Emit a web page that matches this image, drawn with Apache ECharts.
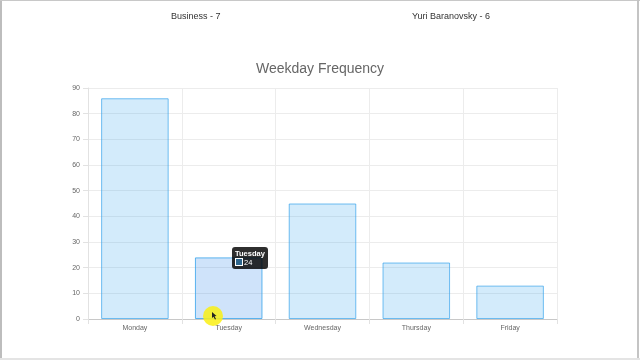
<!DOCTYPE html>
<html>
<head>
<meta charset="utf-8">
<script src="https://cdn.jsdelivr.net/npm/echarts@6/dist/echarts.min.js"></script>
<style>
  html, body { margin: 0; padding: 0; background: #fff; }
  #wrap { position: relative; width: 640px; height: 360px; overflow: hidden; }
  #chart { width: 640px; height: 360px; }
  #bl { position:absolute; left:0; top:0; width:2px; height:360px; background:#bdbdbd; }
  #bt { position:absolute; left:0; top:0; width:640px; height:1px; background:#c8c8c8; }
  #br { position:absolute; right:1px; top:0; width:2px; height:360px; background:#c4c4c4; }
  #bb { position:absolute; left:0; bottom:0; width:640px; height:2px; background:#e4e4e4; }
</style>
</head>
<body>
<div id="wrap">
<div id="chart"></div>
<div id="bl"></div><div id="bt"></div><div id="br"></div><div id="bb"></div>
</div>
<script>
const headerLabels = ["Business - 7", "Yuri Baranovsky - 6"];
const chartTitle = "Weekday Frequency";
const categories = ["Monday", "Tuesday", "Wednesday", "Thursday", "Friday"];
const values = [86, 24, 45, 22, 13];
const yTicks = { min: 0, max: 90, interval: 10 };
const hoveredIndex = 1;

const chart = echarts.init(document.getElementById('chart'));
const font = "'Liberation Sans', Arial, sans-serif";

chart.setOption({
  animation: false,
  textStyle: { fontFamily: font },
  title: {
    text: chartTitle,
    left: 'center',
    top: 57,
    textStyle: { fontSize: 14, fontWeight: 'normal', color: '#666', fontFamily: font }
  },
  graphic: [
    { type: 'text', left: 171, top: 12, style: { text: headerLabels[0], fill: '#333', font: "9px " + font } },
    { type: 'text', left: 412, top: 12, style: { text: headerLabels[1], fill: '#333', font: "9px " + font } },
    { type: 'circle', shape: { cx: 213, cy: 316, r: 10 }, style: { fill: 'rgba(250,240,20,0.85)' }, z: 100 },
    { type: 'polygon', shape: { points: [[212,312],[212,318],[213.5,316.8],[215,319.5],[216,319],[214.6,316.3],[216.5,316]] }, style: { fill: '#222' }, z: 101 }
  ],
  grid: { left: 88, right: 83, top: 88, bottom: 41, containLabel: false },
  tooltip: {
    trigger: 'item',
    triggerOn: 'none',
    alwaysShowContent: true,
    position: [232, 247],
    backgroundColor: 'rgba(0,0,0,0.82)',
    borderWidth: 0,
    padding: [2, 3],
    extraCssText: 'border-radius:3px;box-shadow:none;',
    formatter: function (p) {
      return '<div style="font:bold 7.5px ' + font + ';color:#fff;line-height:9px">' + p.name + '</div>' +
        '<div style="font:7.5px ' + font + ';color:#fff;line-height:9px;white-space:nowrap">' +
        '<span style="display:inline-block;width:6px;height:6px;background:rgba(54,162,235,0.5);border:1px solid #fff;vertical-align:-1px;margin-right:1px"></span>' + p.value + '</div>';
    }
  },
  xAxis: {
    type: 'category',
    data: categories,
    axisLine: { lineStyle: { color: '#c8c8c8' } },
    axisTick: { show: true, alignWithLabel: false, length: 5, lineStyle: { color: '#e2e2e2' } },
    splitLine: { show: true, lineStyle: { color: '#ececec' } },
    axisLabel: { color: '#666', fontSize: 7, margin: 6 }
  },
  yAxis: {
    type: 'value',
    min: yTicks.min, max: yTicks.max, interval: yTicks.interval,
    axisLine: { show: true, lineStyle: { color: '#e2e2e2' } },
    axisTick: { show: true, length: 5, lineStyle: { color: '#e2e2e2' } },
    splitLine: { show: true, lineStyle: { color: '#ececec' } },
    axisLabel: { color: '#666', fontSize: 7, margin: 8 }
  },
  series: [{
    type: 'bar',
    data: values.map((v, i) => i === hoveredIndex ? {
      value: v,
      itemStyle: { color: 'rgba(54,140,235,0.24)', borderColor: 'rgba(54,162,235,0.8)', borderWidth: 1 }
    } : v),
    barWidth: '72%',
    itemStyle: { color: 'rgba(54,162,235,0.22)', borderColor: 'rgba(54,162,235,0.7)', borderWidth: 1 }
  }]
});

chart.dispatchAction({ type: 'showTip', seriesIndex: 0, dataIndex: hoveredIndex });
</script>
</body>
</html>
